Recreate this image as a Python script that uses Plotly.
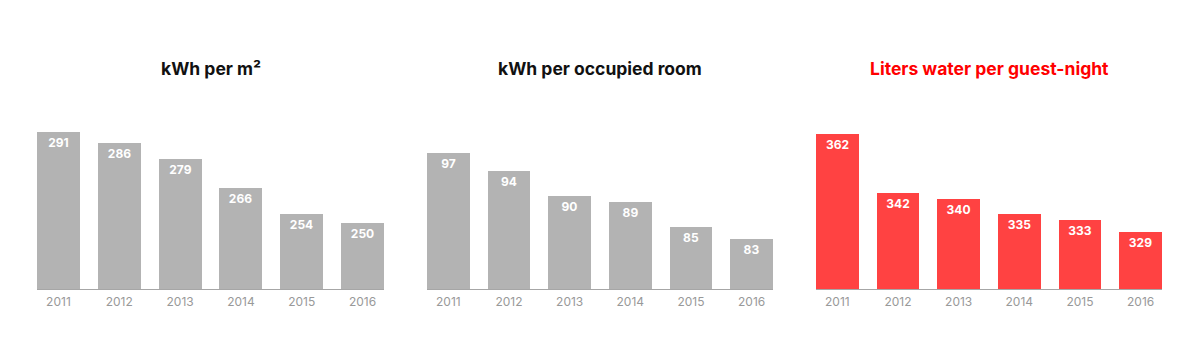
import plotly.graph_objects as go

years = ["2011", "2012", "2013", "2014", "2015", "2016"]
kwh_per_m2 = [291, 286, 279, 266, 254, 250]
kwh_per_room = [97, 94, 90, 89, 85, 83]
liters_per_guest_night = [362, 342, 340, 335, 333, 329]

titles = ["kWh per m²", "kWh per occupied room", "Liters water per guest-night"]
title_colors = ["#111111", "#111111", "#ff0000"]
bar_colors = ["#b3b3b3", "#b3b3b3", "#ff4242"]
series = [kwh_per_m2, kwh_per_room, liters_per_guest_night]

W, H = 1200, 359
OFF = 8  # page body margin
x_px = [(37, 384), (427, 773), (816, 1162)]
y_bottom, y_top = 289, 100
y_ranges = [(220.3, 305.5), (74.86, 105.6), (309.9, 373.3)]

FONT = "Inter"
fig = go.Figure()
bw = 0.705
for i in range(3):
    xa = "x" if i == 0 else f"x{i+1}"
    ya = "y" if i == 0 else f"y{i+1}"
    fig.add_trace(go.Bar(
        x=years, y=series[i], xaxis=xa, yaxis=ya,
        marker=dict(color=bar_colors[i], line=dict(width=0)),
        width=bw,
        text=[str(v) for v in series[i]], textposition="inside",
        insidetextanchor="end", textangle=0,
        textfont=dict(family=FONT, size=12, color="white", weight="bold"),
        showlegend=False, hoverinfo="skip", cliponaxis=False,
    ))
    dom_x = [(x_px[i][0] - OFF) / W, (x_px[i][1] - OFF) / W]
    dom_y = [(H - (y_bottom - OFF)) / H, (H - (y_top - OFF)) / H]
    key = "xaxis" if i == 0 else f"xaxis{i+1}"
    ykey = "yaxis" if i == 0 else f"yaxis{i+1}"
    fig.update_layout(**{
        key: dict(domain=dom_x, anchor=ya, type="category",
                  range=[-bw / 2, 5 + bw / 2],
                  showline=True, linecolor="#a6a6a6", linewidth=1,
                  ticks="", showgrid=False, zeroline=False, ticklabelstandoff=2,
                  tickfont=dict(family=FONT, size=12, color="#999999")),
        ykey: dict(domain=dom_y, anchor=xa, range=list(y_ranges[i]),
                   visible=False, showgrid=False, zeroline=False),
    })
    fig.add_annotation(
        x=((x_px[i][0] + x_px[i][1]) / 2 - OFF) / W, y=(H - (68 - OFF)) / H,
        xref="paper", yref="paper", showarrow=False,
        text=titles[i], xanchor="center", yanchor="middle",
        font=dict(family=FONT, size=17.5, color=title_colors[i], weight="bold"),
    )

fig.update_layout(
    width=W, height=H, margin=dict(l=0, r=0, t=0, b=0),
    paper_bgcolor="white", plot_bgcolor="white", bargap=0,
    uniformtext=dict(mode=False),
)
fig.write_html("out.html")
